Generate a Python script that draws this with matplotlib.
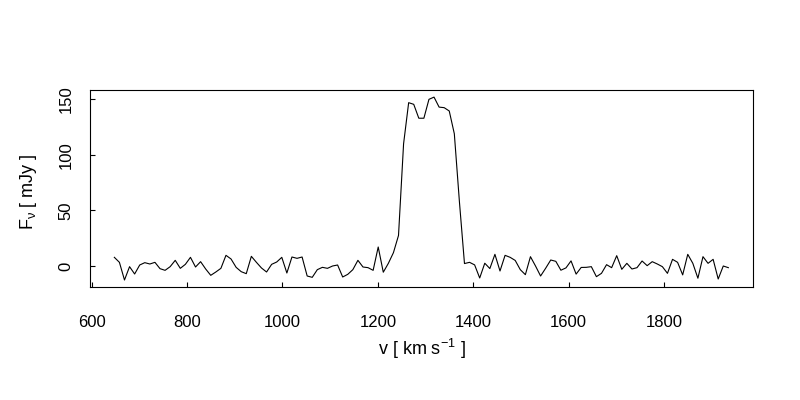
import numpy as np
import matplotlib
matplotlib.use("Agg")
import matplotlib.pyplot as plt

# spectrum: channel grid (km/s) and flux density (mJy)
v_start = 647.5
v_step = 10.64
flux = [
    7.8, 3.3, -12.6, -0.6, -7.2, 0.9, 3.0, 1.8, 3.3, -2.4,
    -3.9, -0.6, 5.1, -2.1, 1.5, 7.8, -0.9, 3.9, -2.7, -8.4,
    -5.4, -2.1, 9.6, 6.3, -1.2, -5.1, -6.9, 8.7, 3.3, -1.8,
    -5.4, 1.5, 3.6, 7.8, -6.3, 8.1, 6.9, 8.1, -9.0, -10.2,
    -3.3, -1.2, -2.1, 0.0, 0.9, -9.9, -7.5, -3.3, 5.1, -0.9,
    -1.5, -3.9, 17.1, -5.6, 2.4, 12.0, 27.5, 110.0, 147.0, 145.5,
    133.0, 133.0, 150.0, 152.0, 143.0, 142.5, 139.5, 119.0, 58.0, 2.2,
    3.3, 1.0, -10.8, 2.5, -2.3, 10.5, -4.5, 9.6, 7.8, 5.0,
    -3.3, -7.8, 8.4, 0.0, -9.0, -2.0, 5.4, 4.2, -3.8, -1.7,
    4.6, -7.3, -1.3, -1.2, -0.6, -9.6, -6.6, 1.2, -1.5, 9.3,
    -3.0, 2.4, -2.7, -1.5, 4.5, 0.3, 3.9, 1.8, -0.6, -6.6,
    6.0, 3.3, -8.0, 10.5, 2.4, -11.0, 8.4, 2.4, 6.0, -11.7,
    0.0, -1.5,
]
vel = v_start + v_step * np.arange(len(flux))

x_ticks = [600, 800, 1000, 1200, 1400, 1600, 1800]
y_ticks = [0, 50, 100, 150]

plt.rcParams['font.family'] = ['Liberation Sans', 'DejaVu Sans']
plt.rcParams['mathtext.fontset'] = 'custom'
plt.rcParams['mathtext.rm'] = 'Liberation Sans'

fig = plt.figure(figsize=(8, 4), dpi=100)
ax = fig.add_axes([90.3 / 800, 1 - 287 / 400, 662.4 / 800, 197 / 400])

ax.plot(vel, flux, color="black", linewidth=0.8)

ax.set_xlim(597.1, 1986)
ax.set_ylim(-18.9, 158.4)
ax.set_xticks(x_ticks)
ax.set_yticks(y_ticks)

for side in ax.spines.values():
    side.set_linewidth(0.8)
ax.tick_params(direction="in", length=3.8, width=0.8, labelsize=12)
ax.tick_params(axis="x", pad=20)
ax.tick_params(axis="y", pad=12, labelrotation=90)
for lab in ax.get_yticklabels():
    lab.set_va("center")

fig.text(421.5 / 800, 1 - 349 / 400, r"v [ km s$^{\mathregular{-1}}$ ]",
         ha="center", va="center", fontsize=13)
fig.text(29 / 800, 1 - 191.5 / 400, r"F$_{\mathregular{ν}}$ [ mJy ]",
         ha="center", va="center", rotation=90, fontsize=13)

fig.savefig("out.png", dpi=100)
